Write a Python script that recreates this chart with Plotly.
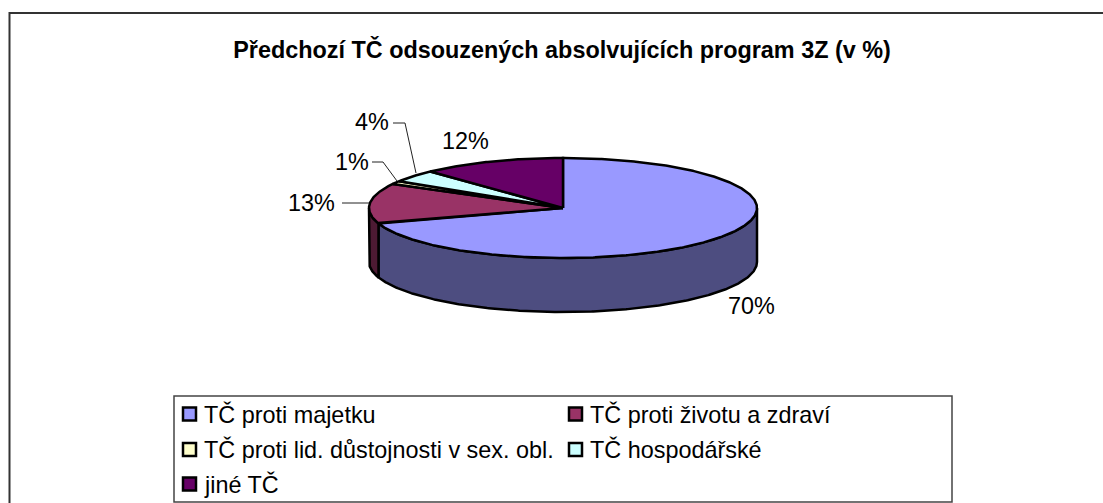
import numpy as np
import plotly.graph_objects as go

title = "Předchozí TČ odsouzených absolvujících program 3Z (v %)"
categories = ["TČ proti majetku", "TČ proti životu a zdraví",
              "TČ proti lid. důstojnosti v sex. obl.", "TČ hospodářské", "jiné TČ"]
values = [70, 13, 1, 4, 12]
top_colors = ["#9999FF", "#993366", "#FFFFCC", "#CCFFFF", "#660066"]
side_colors = ["#4D4D80", "#4D1A33", "#808066", "#668080", "#330033"]

# layout constants (pixels on a 1103x503 canvas)
W, H = 1103, 503
CX, CY, RX, RY, DEPTH = 563, 208, 194, 50, 54
FONT = "Liberation Sans, Arial, sans-serif"
TEXT_SIZE = 23.4
LINE = 2.5
label_pos = [(751, 306), (311, 203), (352, 162), (372, 122), (465, 141)]
leaders = [None,
           [(342, 203), (369, 203)],
           [(372, 162), (383, 162), (397, 181)],
           [(393, 123), (405, 123), (416, 173)],
           None]
legend_pos = [(189.5, 414), (575.5, 414), (189.5, 449.5), (575.5, 449.5), (189.5, 484)]

fig = go.Figure()


def arc(a0, a1):
    n = max(2, int(abs(a1 - a0) * 2) + 2)
    t = np.radians(np.linspace(a0, a1, n))
    return CX + RX * np.sin(t), CY - RY * np.cos(t)


edges = np.cumsum([0] + values) / sum(values) * 360

# side walls (only the front half, 90..270 degrees, can be seen)
for i, cat in enumerate(categories):
    a0, a1 = max(edges[i], 90), min(edges[i + 1], 270)
    if a1 <= a0:
        continue
    x, y = arc(a0, a1)
    fig.add_trace(go.Scatter(
        x=np.r_[x, x[::-1], x[0]], y=np.r_[y, y[::-1] + DEPTH, y[0]],
        mode="lines", fill="toself", fillcolor=side_colors[i],
        line=dict(color="black", width=LINE), name=cat, hoverinfo="name", showlegend=False))

# top face
for i, cat in enumerate(categories):
    x, y = arc(edges[i], edges[i + 1])
    fig.add_trace(go.Scatter(
        x=np.r_[CX, x, CX], y=np.r_[CY, y, CY],
        mode="lines", fill="toself", fillcolor=top_colors[i],
        line=dict(color="black", width=LINE), name=cat,
        text=f"{values[i]}%", hoverinfo="name+text", showlegend=False))

# leader lines
for pts in leaders:
    if pts:
        fig.add_trace(go.Scatter(x=[p[0] for p in pts], y=[p[1] for p in pts], mode="lines",
                                 line=dict(color="#222222", width=1), hoverinfo="skip", showlegend=False))

annotations = []
for v, (x, y) in zip(values, label_pos):
    annotations.append(dict(x=x, y=y, text=f"{v}%", showarrow=False, xanchor="center", yanchor="middle",
                            font=dict(family=FONT, size=TEXT_SIZE, color="black")))

# legend: swatches + text
for cat, col, (x, y) in zip(categories, top_colors, legend_pos):
    fig.add_trace(go.Scatter(x=[x], y=[y], mode="markers", name=cat, hoverinfo="name", showlegend=False,
                             marker=dict(symbol="square", size=13, color=col, line=dict(color="black", width=2.5))))
    annotations.append(dict(x=x + 12.5, y=y, text=cat, showarrow=False, xanchor="left", yanchor="middle",
                            font=dict(family=FONT, size=TEXT_SIZE, color="black")))

shapes = [
    dict(type="path", path=f"M 9.5 {H} L 9.5 13 L {W} 13", line=dict(color="#333333", width=2), layer="below"),
    dict(type="rect", x0=174, y0=396, x1=952, y1=502, line=dict(color="#444444", width=1.5), layer="below"),
]

fig.update_layout(
    width=W, height=H, autosize=False, margin=dict(l=0, r=0, t=0, b=0),
    paper_bgcolor="white", plot_bgcolor="white", showlegend=False,
    title=dict(text=f"<b>{title}</b>", x=562 / W, y=1 - 50 / H, xanchor="center", yanchor="middle",
               font=dict(family=FONT, size=TEXT_SIZE, color="black")),
    xaxis=dict(range=[0, W], domain=[0, 1], visible=False, fixedrange=True),
    yaxis=dict(range=[H, 0], domain=[0, 1], visible=False, fixedrange=True),
    annotations=annotations, shapes=shapes,
)
fig.write_html("out.html", config=dict(displayModeBar=False),
               post_script="document.body.style.margin='0';document.documentElement.style.overflow='hidden';")
